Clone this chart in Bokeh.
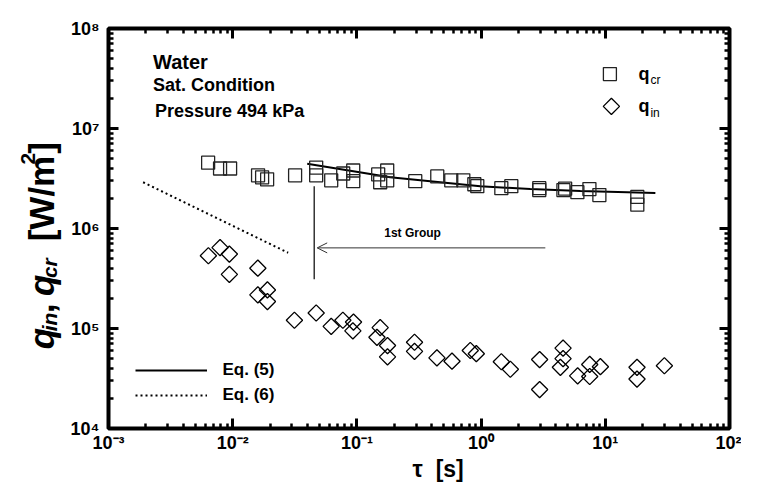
import numpy as np
from bokeh.plotting import figure
from bokeh.layouts import row
from bokeh.models import (LogAxis, Label, Arrow, OpenHead, Legend, LegendItem,
                          FixedTicker, CustomJSTickFormatter, Range1d)
from bokeh.embed import file_html
from bokeh.resources import INLINE

FONT = "Liberation Sans"

# ---------------- data ----------------
qcr_tau = [0.00634, 0.00791, 0.00953, 0.0160, 0.01725, 0.01893, 0.0318, 0.0470, 0.0470,
           0.0621, 0.0776, 0.0934, 0.0934, 0.1484, 0.154, 0.1754, 0.1754, 0.295, 0.4437,
           0.575, 0.719, 0.882, 0.932, 1.455, 1.751, 2.94, 2.94, 4.60, 4.75, 5.96, 7.45,
           8.96, 18.1, 18.1]
qcr_q = [4.55e6, 3.98e6, 3.98e6, 3.40e6, 3.25e6, 3.10e6, 3.40e6, 4.07e6, 3.40e6,
         3.03e6, 3.55e6, 3.80e6, 2.97e6, 3.47e6, 2.90e6, 3.80e6, 3.03e6, 2.97e6, 3.32e6,
         3.03e6, 3.03e6, 2.77e6, 2.65e6, 2.53e6, 2.65e6, 2.42e6, 2.53e6, 2.42e6, 2.50e6,
         2.31e6, 2.48e6, 2.16e6, 2.07e6, 1.73e6]

qin_tau = [0.00637, 0.00791, 0.0094, 0.0094, 0.01594, 0.01594, 0.01904, 0.01904, 0.0314,
           0.0470, 0.0621, 0.0771, 0.0939, 0.0928, 0.154, 0.145, 0.1764, 0.1764, 0.291,
           0.291, 0.441, 0.583, 0.818, 0.915, 1.455, 1.72, 2.96, 2.96, 4.57, 4.57, 4.35,
           5.99, 7.49, 7.49, 9.13, 18.0, 18.0, 29.9]
qin_q = [5.34e5, 6.44e5, 5.55e5, 3.48e5, 4.01e5, 2.17e5, 2.43e5, 1.86e5, 1.21e5,
         1.43e5, 1.05e5, 1.21e5, 1.16e5, 9.47e4, 1.02e5, 8.16e4, 6.75e4, 5.20e4, 7.29e4,
         5.90e4, 5.08e4, 4.71e4, 6.03e4, 5.60e4, 4.65e4, 3.91e4, 4.89e4, 2.45e4, 6.37e4,
         5.00e4, 4.09e4, 3.36e4, 4.37e4, 3.31e4, 4.15e4, 4.09e4, 3.12e4, 4.24e4]

eq5_tau = [0.0398, 0.1855, 0.390, 0.985, 2.49, 6.30, 25.3]
eq5_q = [4.45e6, 3.25e6, 2.97e6, 2.65e6, 2.48e6, 2.37e6, 2.26e6]

eq6_tau = [0.0019, 0.02795]
eq6_q = [2.90e6, 5.72e5]

group_tau = [0.0453]
group_q_top = [2.65e6]
group_q_bottom = [3.11e5]
arrow_tau = [3.29, 0.0479]
arrow_q = [6.40e5, 6.40e5]

x_tick_exps = [-3, -2, -1, 0, 1, 2]
y_tick_exps = [4, 5, 6, 7, 8]

# ---------------- layout (pixels) ----------------
W, H = 741, 484
LW = 62                      # strip holding the rotated y-axis title
MW = W - LW                  # main plot width
ML, MR, MT, MB = 46, 12, 28, 52
XL0, XL1 = x_tick_exps[0], x_tick_exps[-1]
YL0, YL1 = y_tick_exps[0], y_tick_exps[-1]
DX = (MW - ML - MR) / (XL1 - XL0)
DY = (H - MT - MB) / (YL1 - YL0)

# where things sit in the reference picture (used only to place texts)
REF_L, REF_DX, REF_T, REF_DY = 108.5, 124.1, 28.0, 102.1


def ref_to_data(px, py):
    return 10.0 ** (XL0 + (px - REF_L) / REF_DX), 10.0 ** (YL1 - (py - REF_T) / REF_DY)


def strip_y(py):
    return MT + (py - REF_T) * DY / REF_DY


p = figure(width=MW, height=H, x_axis_type="log", y_axis_type="log",
           x_range=(10.0 ** XL0, 10.0 ** XL1), y_range=(10.0 ** YL0, 10.0 ** YL1),
           output_backend="svg", toolbar_location=None,
           min_border_left=ML, min_border_right=MR, min_border_top=MT, min_border_bottom=MB)
p.background_fill_color = "white"
p.border_fill_color = "white"
p.outline_line_color = "black"
p.outline_line_width = 4
p.xgrid.visible = False
p.ygrid.visible = False

xt_major = [10.0 ** e for e in x_tick_exps]
xt_minor = [k * 10.0 ** e for e in x_tick_exps[:-1] for k in range(2, 10)]
yt_major = [10.0 ** e for e in y_tick_exps]
yt_minor = [k * 10.0 ** e for e in y_tick_exps[:-1] for k in range(2, 10)]

SUP_JS = """
const sup = {'-': '\u207b', '0': '\u2070', '1': '\u00b9', '2': '\u00b2', '3': '\u00b3',
             '4': '\u2074', '5': '\u2075', '6': '\u2076', '7': '\u2077', '8': '\u2078',
             '9': '\u2079'};
const e = Math.round(Math.log10(tick));
return '10' + String(e).split('').map(c => sup[c]).join('');
"""


def style_axis(ax, major, minor, show_labels):
    ax.ticker = FixedTicker(ticks=major, minor_ticks=minor)
    if show_labels:
        ax.formatter = CustomJSTickFormatter(code=SUP_JS)
        ax.major_label_text_font_size = "18px"
    else:
        ax.formatter = CustomJSTickFormatter(code="return ''")
        ax.major_label_text_font_size = "1px"
        ax.major_label_standoff = 0
    ax.axis_line_color = None
    ax.major_tick_in = 10
    ax.major_tick_out = 0
    ax.minor_tick_in = 5
    ax.minor_tick_out = 0
    ax.major_tick_line_width = 3
    ax.minor_tick_line_width = 2.5
    ax.major_tick_line_color = "black"
    ax.minor_tick_line_color = "black"
    ax.major_label_text_font = FONT
    ax.major_label_text_font_style = "bold"
    ax.major_label_text_color = "black"


style_axis(p.xaxis[0], xt_major, xt_minor, True)
style_axis(p.yaxis[0], yt_major, yt_minor, True)
p.xaxis[0].major_label_standoff = 4
p.yaxis[0].major_label_standoff = 9
NB = "\u00a0"
p.xaxis[0].axis_label = NB * 6 + "\u03c4" + NB * 2 + "[s]"
p.xaxis[0].axis_label_standoff = 0
p.xaxis[0].axis_label_text_font = FONT
p.xaxis[0].axis_label_text_font_style = "bold"
p.xaxis[0].axis_label_text_font_size = "23px"
p.xaxis[0].axis_label_text_color = "black"

top_ax = LogAxis()
right_ax = LogAxis()
style_axis(top_ax, xt_major, xt_minor, False)
style_axis(right_ax, yt_major, yt_minor, False)
p.add_layout(top_ax, "above")
p.add_layout(right_ax, "right")

# ---------------- data marks ----------------
eq5_r = p.line(eq5_tau, eq5_q, line_color="black", line_width=2)
eq6_r = p.line(eq6_tau, eq6_q, line_color="black", line_width=2, line_dash="2 3")

SQ_SIZE, DI_SIZE = 13, 11.5
p.scatter(qcr_tau, qcr_q, marker="square", size=SQ_SIZE, fill_color=None,
          line_color="#222222", line_width=1.3)
p.scatter(qin_tau, qin_q, marker="square", angle=np.pi / 4, size=DI_SIZE,
          fill_color=None, line_color="black", line_width=1.3)

p.segment(x0=group_tau, y0=group_q_top, x1=group_tau, y1=group_q_bottom,
          line_color="black", line_width=1.2)
p.add_layout(Arrow(end=OpenHead(size=10, line_width=1, line_color="#333333"),
                   x_start=arrow_tau[0], y_start=arrow_q[0],
                   x_end=arrow_tau[1], y_end=arrow_q[1],
                   line_color="#333333", line_width=1))

# ---------------- legends ----------------
leg2 = Legend(items=[LegendItem(label="Eq. (5)", renderers=[eq5_r]),
                     LegendItem(label="Eq. (6)", renderers=[eq6_r])],
              location=((135 - REF_L) * DX / REF_DX, (436.5 - 414.7) * DY / REF_DY),
              orientation="vertical",
              glyph_width=72, glyph_height=22, spacing=3, label_standoff=16,
              padding=0, margin=0, border_line_color=None, background_fill_alpha=0,
              label_text_font=FONT, label_text_font_style="bold",
              label_text_font_size="17px", label_text_color="black")
p.add_layout(leg2)

key_sq = ref_to_data(609.5, 74.5)
key_di = ref_to_data(611.0, 107.5)
p.scatter([key_sq[0]], [key_sq[1]], marker="square", size=SQ_SIZE, fill_color=None,
          line_color="#222222", line_width=1.3)
p.scatter([key_di[0]], [key_di[1]], marker="square", angle=np.pi / 4, size=DI_SIZE,
          fill_color=None, line_color="black", line_width=1.3)


def lab(fig, x, y, text, size, style="bold", align="left", baseline="middle", angle=0.0):
    fig.add_layout(Label(x=x, y=y, text=text, text_font=FONT, text_font_size=f"{size}px",
                         text_font_style=style, text_align=align, text_baseline=baseline,
                         angle=angle, text_color="black"))


def plab(px, py, text, size, **kw):
    x, y = ref_to_data(px, py)
    lab(p, x, y, text, size, **kw)


plab(638, 74.5, "q", 18)
plab(650, 81, "cr", 12, style="normal")
plab(638, 107.5, "q", 18)
plab(650, 114, "in", 12, style="normal")

plab(153, 62, "Water", 20)
plab(153, 86, "Sat. Condition", 18)
plab(155, 112, "Pressure 494 kPa", 18)
plab(384, 237, "1st Group", 12)

# ---------------- y-axis title strip ----------------
t = figure(width=LW, height=H, x_range=Range1d(0, LW), y_range=Range1d(H, 0),
           x_axis_location=None, y_axis_location=None,
           output_backend="svg", toolbar_location=None,
           min_border=0, min_border_left=0, min_border_right=0,
           min_border_top=0, min_border_bottom=0)
t.outline_line_color = None
t.background_fill_color = "white"
t.border_fill_color = "white"
t.xgrid.visible = False
t.ygrid.visible = False

R = np.pi / 2
BX = 41
lab(t, BX, strip_y(392), "q", 35, style="bold italic", baseline="alphabetic", angle=R)
lab(t, BX + 8, strip_y(370), "in", 21, style="bold italic", baseline="alphabetic", angle=R)
lab(t, BX, strip_y(348), ",", 35, style="bold", baseline="alphabetic", angle=R)
lab(t, BX, strip_y(327), "q", 35, style="bold italic", baseline="alphabetic", angle=R)
lab(t, BX + 8, strip_y(305), "cr", 21, style="bold italic", baseline="alphabetic", angle=R)
lab(t, BX, strip_y(260), "[W/m", 35, style="bold", baseline="alphabetic", angle=R)
lab(t, BX - 14, strip_y(166), "2", 21, style="bold", baseline="alphabetic", angle=R)
lab(t, BX, strip_y(153), "]", 35, style="bold", baseline="alphabetic", angle=R)

layout = row(t, p, spacing=0)
open("out.html", "w").write(file_html(layout, INLINE))
